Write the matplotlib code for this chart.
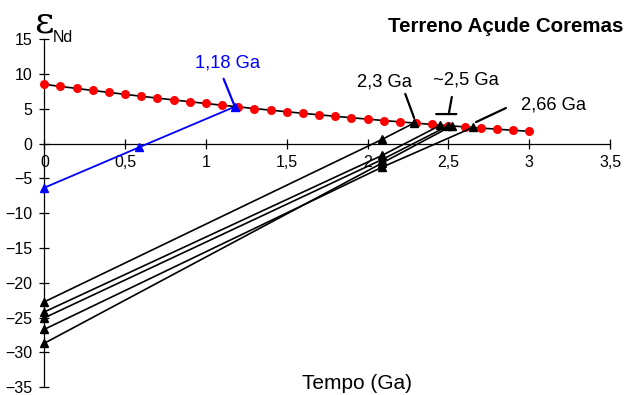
import matplotlib
matplotlib.use("Agg")
import matplotlib.pyplot as plt

plt.rcParams['font.family'] = ['Liberation Sans', 'DejaVu Sans']

# depleted mantle curve
dm_t = [0.0, 0.1, 0.2, 0.3, 0.4, 0.5, 0.6, 0.7, 0.8, 0.9, 1.0, 1.1, 1.2, 1.3, 1.4, 1.5,
        1.6, 1.7, 1.8, 1.9, 2.0, 2.1, 2.2, 2.3, 2.4, 2.5, 2.6, 2.7, 2.8, 2.9, 3.0]
dm_eps = [8.5, 8.2, 7.91, 7.62, 7.34, 7.06, 6.79, 6.52, 6.26, 6.0, 5.75, 5.5, 5.26, 5.02,
          4.79, 4.56, 4.34, 4.12, 3.91, 3.70, 3.5, 3.30, 3.11, 2.92, 2.74, 2.56, 2.39,
          2.22, 2.06, 1.90, 1.75]

# blue sample (1,18 Ga)
blue_t = [0.0, 0.586, 1.18]
blue_eps = [-6.35, -0.55, 5.3]

# black samples: today, crystallization (~2.09 Ga), model age on DM
samples_t = [
    [0.0, 2.09, 2.29],
    [0.0, 2.09, 2.45],
    [0.0, 2.09, 2.50],
    [0.0, 2.09, 2.52],
    [0.0, 2.09, 2.65],
]
samples_eps = [
    [-22.75, 0.6, 2.98],
    [-24.2, -1.7, 2.62],
    [-25.05, -2.3, 2.56],
    [-28.7, -2.8, 2.52],
    [-26.7, -3.4, 2.3],
]

xticks = [0, 0.5, 1, 1.5, 2, 2.5, 3, 3.5]
xtick_labels = ['0', '0,5', '1', '1,5', '2', '2,5', '3', '3,5']
yticks = [-35, -30, -25, -20, -15, -10, -5, 0, 5, 10, 15]

fig = plt.figure(figsize=(6.27, 3.95), dpi=100)
ax = fig.add_axes([0.0707, 0.020, 0.9023, 0.881])

ax.plot(dm_t, dm_eps, color='black', lw=1.2, zorder=2)
ax.plot(dm_t, dm_eps, 'o', color='#ff0000', ms=6.5, mec='none', zorder=3, clip_on=False)

for t, e in zip(samples_t, samples_eps):
    ax.plot(t, e, '-^', color='black', lw=1.2, ms=6, zorder=4, clip_on=False)

ax.plot(blue_t, blue_eps, '-^', color='#0000ff', lw=1.3, ms=6, zorder=5, clip_on=False)

ax.set_xlim(0, 3.5)
ax.set_ylim(-35, 15)
ax.spines['bottom'].set_position(('data', 0))
ax.spines['top'].set_visible(False)
ax.spines['right'].set_visible(False)
for s in ['left', 'bottom']:
    ax.spines[s].set_linewidth(0.9)
ax.set_xticks(xticks)
ax.set_xticklabels(xtick_labels)
ax.set_yticks(yticks)
ax.tick_params(direction='inout', length=7, width=0.9, labelsize=11.5, colors='black')
ax.tick_params(axis='y', pad=5)
ax.tick_params(axis='x', pad=5)

# annotations
line = dict(arrowstyle='-', color='#0000ff', lw=1.6, shrinkA=0, shrinkB=0)
ax.text(1.135, 11.6, '1,18 Ga', color='#0000ff', fontsize=13.2, ha='center', va='center')
ax.annotate('', xy=(1.177, 5.4), xytext=(1.109, 9.3), arrowprops=line)

bl = dict(arrowstyle='-', color='black', lw=1.6, shrinkA=0, shrinkB=0)
ax.text(2.103, 8.85, '2,3 Ga', fontsize=13.2, ha='center', va='center')
ax.annotate('', xy=(2.288, 3.66), xytext=(2.233, 7.12), arrowprops=bl)

ax.text(2.61, 9.15, '~2,5 Ga', fontsize=13.2, ha='center', va='center')
ax.annotate('', xy=(2.502, 4.23), xytext=(2.521, 6.69), arrowprops=bl)
ax.annotate('', xy=(2.424, 4.23), xytext=(2.549, 4.23), arrowprops=bl)

ax.text(3.152, 5.52, '2,66 Ga', fontsize=13.2, ha='center', va='center')
ax.annotate('', xy=(2.671, 3.08), xytext=(2.856, 5.1), arrowprops=bl)

fig.text(0.994, 0.934, 'Terreno Açude Coremas', fontsize=14.8, fontweight='bold',
         ha='right', va='center')
fig.text(0.070, 0.942, 'ε', fontsize=27, ha='center', va='center', family=['DejaVu Serif'])
fig.text(0.101, 0.904, 'Nd', fontsize=11.5, ha='center', va='center')
fig.text(0.569, 0.030, 'Tempo (Ga)', fontsize=15, ha='center', va='center')

fig.savefig('out.png', dpi=100)
